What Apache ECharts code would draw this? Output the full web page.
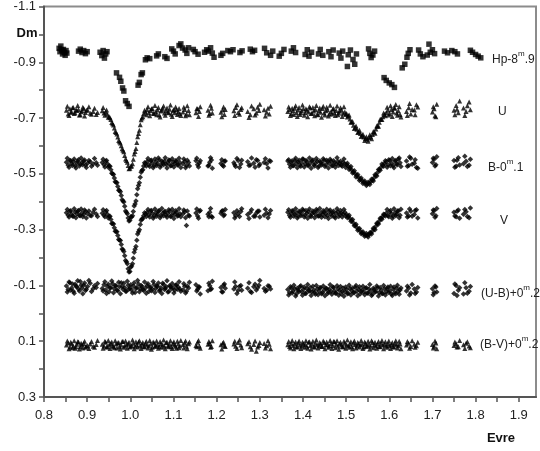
<!DOCTYPE html>
<html>
<head>
<meta charset="utf-8">
<script src="https://cdn.jsdelivr.net/npm/echarts@6/dist/echarts.min.js"></script>
<style>html,body{margin:0;padding:0;background:#fff;}#c{width:540px;height:451px;}</style>
</head>
<body>
<div id="c"></div>
<script>
// ---------- DATA ----------
var xTickLabels = [0.8,0.9,1.0,1.1,1.2,1.3,1.4,1.5,1.6,1.7,1.8,1.9];
var yTickLabels = [-1.1,-0.9,-0.7,-0.5,-0.3,-0.1,0.1,0.3];

// Hipparcos points
var hpT = [0.835,0.837,0.839,0.841,0.843,0.845,0.847,0.849,0.851,0.853,
0.880,0.884,0.888,0.892,0.896,0.900,0.930,0.934,0.937,0.940,0.943,0.946,
0.968,0.975,0.978,0.982,0.985,0.989,0.993,0.997,1.018,1.021,1.025,1.028,
1.035,1.039,1.045,1.061,1.065,1.080,1.085,1.096,1.100,1.104,1.113,1.117,1.121,1.127,1.131,1.135,
1.146,1.150,1.157,1.172,1.177,1.181,1.186,1.190,1.194,1.210,1.214,1.226,1.232,1.238,1.254,1.259,
1.278,1.283,1.288,1.311,1.316,1.325,1.330,1.345,1.350,1.356,1.373,1.378,1.383,1.405,1.410,1.414,1.420,
1.436,1.440,1.446,1.460,1.465,1.470,1.484,1.488,1.492,1.503,1.505,1.510,1.516,1.520,1.524,
1.552,1.555,1.558,1.562,1.566,1.588,1.593,1.600,1.606,1.612,1.630,1.636,1.641,1.644,1.648,
1.668,1.672,1.678,1.688,1.692,1.695,1.700,1.705,1.728,1.735,1.745,1.752,1.758,1.788,1.793,1.800,1.806,1.812];
var hpV = [-0.950,-0.938,-0.958,-0.944,-0.930,-0.946,-0.936,-0.925,-0.942,-0.933,
-0.940,-0.947,-0.935,-0.942,-0.931,-0.938,-0.936,-0.924,-0.942,-0.915,-0.930,-0.938,
-0.862,-0.846,-0.832,-0.808,-0.797,-0.762,-0.752,-0.742,-0.818,-0.828,-0.856,-0.862,
-0.909,-0.916,-0.913,-0.923,-0.930,-0.920,-0.914,-0.948,-0.940,-0.930,-0.960,-0.966,-0.951,-0.944,-0.932,-0.952,
-0.946,-0.938,-0.929,-0.936,-0.945,-0.940,-0.952,-0.933,-0.918,-0.925,-0.932,-0.942,-0.938,-0.945,-0.935,-0.941,
-0.947,-0.938,-0.943,-0.950,-0.934,-0.925,-0.940,-0.922,-0.932,-0.946,-0.940,-0.952,-0.935,-0.928,-0.945,-0.922,-0.936,
-0.930,-0.946,-0.925,-0.938,-0.920,-0.944,-0.933,-0.915,-0.940,-0.885,-0.927,-0.944,-0.910,-0.893,-0.930,
-0.948,-0.932,-0.917,-0.926,-0.940,-0.845,-0.835,-0.826,-0.820,-0.810,-0.880,-0.893,-0.918,-0.932,-0.945,
-0.944,-0.930,-0.920,-0.926,-0.965,-0.936,-0.945,-0.931,-0.940,-0.934,-0.942,-0.938,-0.930,-0.943,-0.936,-0.928,-0.922,-0.916];

// Ground-based UBV observation times (first sweep)
var t = [0.852,0.856,0.860,0.864,0.868,0.872,0.876,0.880,0.884,0.888,0.892,0.896,0.901,0.907,0.914,0.921,
0.935,0.939,0.943,0.947,0.951,0.955,0.959,0.963,0.967,0.971,
0.975,0.979,0.983,0.987,0.991,0.995,0.999,1.003,1.007,1.011,
1.015,1.019,1.023,1.027,1.031,1.035,1.039,1.043,1.047,1.051,
1.055,1.059,1.063,1.067,1.071,1.075,1.079,1.083,1.087,1.091,
1.095,1.099,1.103,1.107,1.111,1.115,
1.122,1.126,1.130,1.135,1.152,1.156,1.160,1.180,1.184,1.188,1.210,1.214,1.218,1.240,1.244,1.250,1.256,1.272,1.278,1.286,1.292,1.298,1.310,1.316,1.322,
1.365,1.369,1.373,1.377,1.381,1.385,1.389,1.393,1.397,1.401,
1.405,1.409,1.413,1.417,1.421,1.425,1.429,1.433,1.437,1.441,
1.445,1.449,1.453,1.457,1.461,1.465,1.469,1.473,1.477,1.481,
1.485,1.489,1.493,1.497,1.501,1.505,1.509,1.513,1.517,1.521,
1.525,1.529,1.533,1.537,1.541,1.545,1.549,1.553,1.557,1.561,
1.565,1.569,1.573,1.577,1.581,1.585,1.589,1.593,1.597,1.601,
1.605,1.609,1.613,1.617,1.621,1.625,
1.640,1.645,1.650,1.658,1.663,
1.700,1.704,1.708,1.750,1.755,1.760,1.772,1.778,1.785];

// second sweep times
var t2 = [0.854,0.858,0.862,0.866,0.870,0.874,0.878,0.882,0.886,0.890,0.894,0.898,0.904,0.910,0.917,0.924,
0.937,0.941,0.945,0.949,0.953,0.957,0.961,0.965,0.969,0.973,
0.977,0.981,0.985,0.989,0.993,0.997,1.001,1.005,1.009,1.013,
1.017,1.021,1.025,1.029,1.033,1.037,1.041,1.045,1.049,1.053,
1.057,1.061,1.065,1.069,1.073,1.077,1.081,1.085,1.089,1.093,
1.097,1.101,1.105,1.109,1.113,1.117,
1.124,1.128,1.132,1.137,1.154,1.158,1.162,1.182,1.186,1.190,1.212,1.216,1.220,1.242,1.247,1.253,1.258,1.275,1.281,1.289,1.295,1.300,1.313,1.319,1.325,
1.367,1.371,1.375,1.379,1.383,1.387,1.391,1.395,1.399,1.403,
1.407,1.411,1.415,1.419,1.423,1.427,1.431,1.435,1.439,1.443,
1.447,1.451,1.455,1.459,1.463,1.467,1.471,1.475,1.479,1.483,
1.487,1.491,1.495,1.499,1.503,1.507,1.511,1.515,1.519,1.523,
1.527,1.531,1.535,1.539,1.543,1.547,1.551,1.555,1.559,1.563,
1.567,1.571,1.575,1.579,1.583,1.587,1.591,1.595,1.599,1.603,
1.607,1.611,1.615,1.619,1.623,1.627,
1.642,1.647,1.653,1.660,1.666,
1.702,1.706,1.710,1.752,1.757,1.763,1.775,1.781,1.788];

var uMag = [-0.728,-0.715,-0.733,-0.722,-0.738,-0.719,-0.727,-0.731,-0.712,-0.726,-0.734,-0.720,-0.729,-0.717,-0.724,-0.713,
-0.726,-0.718,-0.722,-0.714,-0.705,-0.695,-0.680,-0.664,-0.648,-0.632,
-0.615,-0.601,-0.585,-0.566,-0.548,-0.530,-0.520,-0.528,-0.552,-0.580,
-0.612,-0.645,-0.676,-0.700,-0.716,-0.722,-0.730,-0.719,-0.727,-0.734,
-0.716,-0.723,-0.729,-0.711,-0.725,-0.735,-0.718,-0.727,-0.721,-0.732,
-0.714,-0.726,-0.719,-0.730,-0.723,-0.716,
-0.722,-0.731,-0.715,-0.727,-0.719,-0.733,-0.724,-0.728,-0.716,-0.735,-0.721,-0.729,-0.713,-0.726,-0.738,-0.720,-0.731,-0.724,-0.712,-0.733,-0.718,-0.727,-0.730,-0.721,-0.715,
-0.724,-0.731,-0.716,-0.727,-0.735,-0.720,-0.729,-0.713,-0.726,-0.733,
-0.719,-0.728,-0.722,-0.736,-0.717,-0.725,-0.731,-0.714,-0.727,-0.721,
-0.734,-0.718,-0.726,-0.730,-0.715,-0.723,-0.732,-0.719,-0.727,-0.712,
-0.725,-0.729,-0.717,-0.722,-0.716,-0.708,-0.697,-0.686,-0.674,-0.666,
-0.660,-0.651,-0.645,-0.638,-0.632,-0.627,-0.624,-0.630,-0.633,-0.641,
-0.650,-0.661,-0.672,-0.685,-0.696,-0.705,-0.713,-0.720,-0.728,-0.716,
-0.731,-0.722,-0.735,-0.718,-0.726,-0.713,
-0.724,-0.737,-0.715,-0.729,-0.748,
-0.722,-0.733,-0.705,-0.728,-0.745,-0.719,-0.736,-0.724,-0.758];
var uMag2 = [-0.742,-0.709,-0.721,-0.737,-0.716,-0.730,-0.745,-0.711,-0.723,-0.739,-0.707,-0.728,-0.741,-0.714,-0.735,-0.720,
-0.738,-0.710,-0.729,-0.703,-0.701,-0.684,-0.675,-0.652,-0.643,-0.620,
-0.611,-0.590,-0.579,-0.553,-0.542,-0.518,-0.527,-0.536,-0.571,-0.591,
-0.633,-0.656,-0.694,-0.705,-0.728,-0.712,-0.741,-0.708,-0.733,-0.717,
-0.745,-0.712,-0.738,-0.704,-0.729,-0.743,-0.710,-0.736,-0.719,-0.747,
-0.706,-0.731,-0.740,-0.713,-0.734,-0.709,
-0.739,-0.708,-0.744,-0.712,-0.733,-0.706,-0.741,-0.710,-0.746,-0.718,-0.705,-0.740,-0.731,-0.709,-0.748,-0.714,-0.737,-0.702,-0.743,-0.711,-0.739,-0.750,-0.707,-0.735,-0.742,
-0.740,-0.709,-0.735,-0.713,-0.744,-0.706,-0.738,-0.719,-0.747,-0.710,
-0.733,-0.705,-0.741,-0.716,-0.738,-0.708,-0.745,-0.712,-0.736,-0.703,
-0.742,-0.711,-0.739,-0.707,-0.746,-0.715,-0.734,-0.709,-0.743,-0.718,
-0.737,-0.706,-0.741,-0.713,-0.704,-0.711,-0.685,-0.688,-0.663,-0.672,
-0.648,-0.656,-0.634,-0.642,-0.620,-0.633,-0.617,-0.640,-0.626,-0.652,
-0.646,-0.672,-0.671,-0.696,-0.695,-0.718,-0.708,-0.739,-0.711,-0.744,
-0.706,-0.737,-0.749,-0.710,-0.741,-0.704,
-0.709,-0.752,-0.731,-0.712,-0.740,
-0.741,-0.708,-0.750,-0.712,-0.732,-0.761,-0.709,-0.744,-0.730];

var bMag = [-0.542,-0.531,-0.548,-0.536,-0.544,-0.529,-0.539,-0.551,-0.534,-0.541,-0.546,-0.532,-0.538,-0.543,-0.535,-0.540,
-0.541,-0.533,-0.545,-0.536,-0.528,-0.515,-0.500,-0.485,-0.470,-0.455,
-0.440,-0.422,-0.403,-0.384,-0.362,-0.342,-0.334,-0.345,-0.365,-0.392,
-0.425,-0.458,-0.488,-0.512,-0.528,-0.537,-0.544,-0.533,-0.547,-0.538,
-0.529,-0.543,-0.536,-0.550,-0.531,-0.540,-0.545,-0.534,-0.539,-0.548,
-0.530,-0.542,-0.537,-0.546,-0.533,-0.541,
-0.536,-0.544,-0.530,-0.541,-0.547,-0.533,-0.539,-0.528,-0.542,-0.550,-0.537,-0.531,-0.545,-0.540,-0.526,-0.548,-0.535,-0.543,-0.532,-0.538,-0.551,-0.529,-0.541,-0.536,-0.547,
-0.546,-0.534,-0.541,-0.529,-0.548,-0.537,-0.543,-0.531,-0.539,-0.552,
-0.535,-0.544,-0.530,-0.540,-0.547,-0.533,-0.538,-0.545,-0.528,-0.541,
-0.536,-0.549,-0.532,-0.543,-0.538,-0.546,-0.530,-0.540,-0.535,-0.544,
-0.537,-0.531,-0.542,-0.536,-0.533,-0.527,-0.521,-0.514,-0.507,-0.500,
-0.494,-0.487,-0.481,-0.475,-0.470,-0.466,-0.464,-0.467,-0.472,-0.478,
-0.486,-0.495,-0.505,-0.515,-0.524,-0.531,-0.537,-0.543,-0.532,-0.548,
-0.538,-0.529,-0.545,-0.535,-0.552,-0.540,
-0.546,-0.530,-0.556,-0.538,-0.523,
-0.541,-0.552,-0.533,-0.548,-0.527,-0.558,-0.536,-0.545,-0.531];
var bMag2 = [-0.556,-0.524,-0.547,-0.530,-0.553,-0.521,-0.545,-0.528,-0.557,-0.533,-0.550,-0.523,-0.548,-0.527,-0.555,-0.531,
-0.552,-0.525,-0.548,-0.524,-0.527,-0.502,-0.498,-0.472,-0.468,-0.441,
-0.436,-0.407,-0.399,-0.367,-0.357,-0.331,-0.346,-0.350,-0.385,-0.403,
-0.447,-0.468,-0.506,-0.515,-0.540,-0.528,-0.555,-0.526,-0.549,-0.522,
-0.553,-0.530,-0.557,-0.524,-0.546,-0.533,-0.558,-0.521,-0.550,-0.529,
-0.554,-0.525,-0.547,-0.532,-0.556,-0.523,
-0.553,-0.522,-0.549,-0.528,-0.556,-0.525,-0.547,-0.531,-0.558,-0.520,-0.551,-0.527,-0.546,-0.533,-0.555,-0.523,-0.549,-0.530,-0.557,-0.524,-0.548,-0.534,-0.554,-0.521,-0.545,
-0.551,-0.524,-0.547,-0.530,-0.556,-0.522,-0.549,-0.527,-0.553,-0.525,
-0.548,-0.531,-0.557,-0.520,-0.550,-0.528,-0.555,-0.523,-0.546,-0.532,
-0.554,-0.526,-0.549,-0.521,-0.552,-0.529,-0.547,-0.524,-0.558,-0.530,
-0.545,-0.527,-0.553,-0.523,-0.538,-0.516,-0.526,-0.503,-0.511,-0.489,
-0.498,-0.476,-0.485,-0.465,-0.474,-0.458,-0.470,-0.462,-0.481,-0.474,
-0.497,-0.492,-0.516,-0.513,-0.535,-0.527,-0.547,-0.524,-0.551,-0.529,
-0.555,-0.522,-0.548,-0.533,-0.557,-0.526,
-0.527,-0.560,-0.534,-0.551,-0.520,
-0.556,-0.528,-0.561,-0.524,-0.549,-0.532,-0.563,-0.526,-0.552];

var vMag = [-0.361,-0.352,-0.366,-0.355,-0.348,-0.363,-0.357,-0.369,-0.350,-0.360,-0.354,-0.365,-0.358,-0.351,-0.362,-0.356,
-0.359,-0.352,-0.364,-0.355,-0.347,-0.336,-0.322,-0.307,-0.293,-0.279,
-0.263,-0.247,-0.228,-0.206,-0.185,-0.160,-0.150,-0.170,-0.197,-0.230,
-0.262,-0.292,-0.318,-0.338,-0.350,-0.356,-0.362,-0.353,-0.367,-0.357,
-0.348,-0.361,-0.355,-0.368,-0.350,-0.359,-0.364,-0.352,-0.358,-0.366,
-0.349,-0.360,-0.355,-0.363,-0.351,-0.357,
-0.357,-0.364,-0.315,-0.352,-0.360,-0.349,-0.366,-0.355,-0.362,-0.347,-0.359,-0.368,-0.353,-0.361,-0.350,-0.357,-0.365,-0.354,-0.362,-0.348,-0.359,-0.367,-0.352,-0.360,-0.356,
-0.362,-0.351,-0.358,-0.366,-0.354,-0.360,-0.348,-0.363,-0.356,-0.369,
-0.352,-0.359,-0.364,-0.350,-0.357,-0.362,-0.355,-0.367,-0.349,-0.360,
-0.354,-0.363,-0.358,-0.351,-0.365,-0.356,-0.361,-0.347,-0.358,-0.364,
-0.353,-0.360,-0.356,-0.362,-0.354,-0.347,-0.340,-0.332,-0.324,-0.316,
-0.308,-0.301,-0.294,-0.288,-0.284,-0.281,-0.279,-0.283,-0.288,-0.295,
-0.303,-0.312,-0.322,-0.331,-0.340,-0.347,-0.353,-0.359,-0.350,-0.364,
-0.356,-0.348,-0.361,-0.355,-0.367,-0.352,
-0.360,-0.349,-0.366,-0.354,-0.371,
-0.357,-0.368,-0.350,-0.362,-0.346,-0.370,-0.355,-0.364,-0.343];
var vMag2 = [-0.372,-0.345,-0.368,-0.349,-0.375,-0.343,-0.366,-0.351,-0.374,-0.346,-0.370,-0.342,-0.367,-0.350,-0.373,-0.347,
-0.371,-0.346,-0.369,-0.342,-0.348,-0.322,-0.320,-0.294,-0.292,-0.265,
-0.261,-0.231,-0.222,-0.189,-0.178,-0.148,-0.165,-0.178,-0.219,-0.240,
-0.284,-0.300,-0.334,-0.340,-0.361,-0.347,-0.372,-0.345,-0.369,-0.341,
-0.374,-0.348,-0.367,-0.343,-0.376,-0.350,-0.365,-0.344,-0.371,-0.347,
-0.373,-0.340,-0.368,-0.349,-0.375,-0.346,
-0.370,-0.343,-0.367,-0.349,-0.374,-0.341,-0.369,-0.346,-0.376,-0.344,-0.366,-0.350,-0.372,-0.342,-0.368,-0.347,-0.375,-0.340,-0.371,-0.348,-0.366,-0.345,-0.373,-0.343,-0.369,
-0.371,-0.344,-0.368,-0.348,-0.375,-0.342,-0.366,-0.350,-0.373,-0.345,
-0.369,-0.341,-0.374,-0.347,-0.367,-0.343,-0.372,-0.349,-0.376,-0.344,
-0.368,-0.346,-0.373,-0.340,-0.370,-0.348,-0.366,-0.342,-0.375,-0.347,
-0.369,-0.345,-0.372,-0.349,-0.343,-0.352,-0.330,-0.336,-0.314,-0.319,
-0.298,-0.304,-0.285,-0.292,-0.276,-0.286,-0.274,-0.289,-0.284,-0.305,
-0.300,-0.323,-0.320,-0.341,-0.337,-0.355,-0.349,-0.372,-0.346,-0.369,
-0.341,-0.375,-0.350,-0.367,-0.343,-0.373,
-0.345,-0.374,-0.348,-0.369,-0.342,
-0.370,-0.344,-0.376,-0.349,-0.366,-0.341,-0.372,-0.347,-0.378];

var ubMag = [-0.098,-0.085,-0.110,-0.091,-0.079,-0.104,-0.095,-0.087,-0.114,-0.090,-0.101,-0.082,-0.096,-0.108,-0.088,-0.093,
-0.089,-0.102,-0.084,-0.097,-0.077,-0.093,-0.106,-0.088,-0.099,-0.081,
-0.095,-0.110,-0.086,-0.092,-0.079,-0.101,-0.090,-0.084,-0.098,-0.075,
-0.093,-0.105,-0.087,-0.096,-0.082,-0.091,-0.100,-0.078,-0.094,-0.086,
-0.103,-0.089,-0.097,-0.080,-0.092,-0.108,-0.085,-0.095,-0.076,-0.099,
-0.088,-0.091,-0.083,-0.102,-0.094,-0.087,
-0.084,-0.097,-0.079,-0.091,-0.102,-0.086,-0.094,-0.081,-0.099,-0.088,-0.093,-0.076,-0.105,-0.087,-0.096,-0.082,-0.100,-0.090,-0.078,-0.095,-0.084,-0.101,-0.089,-0.083,-0.097,
-0.085,-0.074,-0.091,-0.079,-0.088,-0.070,-0.083,-0.095,-0.077,-0.086,
-0.072,-0.089,-0.081,-0.093,-0.076,-0.084,-0.068,-0.087,-0.079,-0.092,
-0.074,-0.083,-0.090,-0.071,-0.086,-0.078,-0.094,-0.080,-0.073,-0.088,
-0.082,-0.069,-0.091,-0.077,-0.085,-0.072,-0.089,-0.081,-0.075,-0.093,
-0.079,-0.086,-0.070,-0.084,-0.076,-0.090,-0.073,-0.087,-0.080,-0.068,
-0.085,-0.078,-0.092,-0.074,-0.083,-0.071,-0.088,-0.077,-0.094,-0.081,
-0.069,-0.086,-0.075,-0.090,-0.079,-0.084,
-0.080,-0.091,-0.073,-0.087,-0.076,
-0.088,-0.075,-0.094,-0.071,-0.100,-0.083,-0.069,-0.092,-0.079];
var ubMag2 = [-0.076,-0.112,-0.083,-0.105,-0.072,-0.097,-0.117,-0.080,-0.101,-0.070,-0.109,-0.086,-0.118,-0.078,-0.099,-0.107,
-0.080,-0.113,-0.071,-0.104,-0.091,-0.116,-0.074,-0.099,-0.083,-0.111,
-0.070,-0.096,-0.108,-0.079,-0.115,-0.087,-0.102,-0.073,-0.110,-0.089,
-0.118,-0.077,-0.100,-0.085,-0.112,-0.072,-0.106,-0.093,-0.081,-0.114,
-0.075,-0.098,-0.109,-0.084,-0.071,-0.103,-0.090,-0.117,-0.078,-0.096,
-0.107,-0.073,-0.101,-0.086,-0.113,-0.079,
-0.106,-0.073,-0.098,-0.111,-0.080,-0.094,-0.069,-0.108,-0.085,-0.115,-0.077,-0.101,-0.090,-0.112,-0.071,-0.096,-0.083,-0.110,-0.075,-0.104,-0.092,-0.118,-0.079,-0.099,-0.087,
-0.066,-0.095,-0.073,-0.101,-0.062,-0.090,-0.078,-0.099,-0.065,-0.094,
-0.071,-0.103,-0.080,-0.064,-0.097,-0.075,-0.100,-0.067,-0.092,-0.070,
-0.098,-0.063,-0.089,-0.076,-0.102,-0.068,-0.093,-0.072,-0.099,-0.065,
-0.096,-0.079,-0.061,-0.094,-0.070,-0.101,-0.066,-0.091,-0.074,-0.100,
-0.063,-0.095,-0.078,-0.097,-0.067,-0.092,-0.072,-0.103,-0.064,-0.090,
-0.076,-0.098,-0.062,-0.093,-0.071,-0.100,-0.066,-0.089,-0.075,-0.097,
-0.064,-0.094,-0.070,-0.101,-0.068,-0.091,
-0.097,-0.066,-0.103,-0.071,-0.093,
-0.067,-0.098,-0.076,-0.105,-0.064,-0.092,-0.110,-0.072,-0.096];

var bvMag = [0.114,0.106,0.121,0.109,0.117,0.125,0.111,0.103,0.119,0.113,0.108,0.122,0.115,0.110,0.118,0.112,
0.111,0.117,0.104,0.120,0.113,0.108,0.116,0.123,0.110,0.106,
0.119,0.114,0.101,0.117,0.112,0.109,0.121,0.115,0.107,0.118,
0.113,0.104,0.116,0.111,0.120,0.108,0.114,0.117,0.110,0.122,
0.106,0.115,0.112,0.119,0.109,0.113,0.118,0.105,0.116,0.111,
0.120,0.108,0.114,0.125,0.110,0.117,
0.112,0.106,0.118,0.109,0.115,0.104,0.117,0.111,0.108,0.119,0.113,0.107,0.116,0.110,0.118,0.105,0.114,0.109,0.120,0.112,0.136,0.115,0.108,0.116,0.111,
0.113,0.119,0.108,0.115,0.110,0.121,0.106,0.114,0.117,0.109,
0.112,0.118,0.104,0.115,0.111,0.120,0.107,0.113,0.116,0.110,
0.119,0.105,0.114,0.112,0.117,0.108,0.115,0.102,0.111,0.118,
0.109,0.114,0.120,0.107,0.113,0.116,0.110,0.119,0.106,0.112,
0.117,0.109,0.114,0.111,0.121,0.108,0.115,0.112,0.118,0.105,
0.113,0.116,0.110,0.119,0.107,0.114,0.111,0.117,0.109,0.115,
0.112,0.120,0.108,0.113,0.116,0.110,
0.114,0.107,0.119,0.111,0.116,
0.112,0.118,0.106,0.115,0.109,0.120,0.113,0.107,0.117];
var bvMag2 = [0.099,0.127,0.104,0.123,0.098,0.120,0.102,0.128,0.107,0.124,0.100,0.118,0.126,0.101,0.122,0.097,
0.125,0.100,0.121,0.097,0.126,0.103,0.119,0.098,0.124,0.105,
0.128,0.101,0.122,0.099,0.125,0.104,0.118,0.096,0.127,0.102,
0.121,0.098,0.126,0.105,0.120,0.100,0.124,0.097,0.129,0.103,
0.119,0.099,0.125,0.101,0.122,0.096,0.127,0.104,0.120,0.098,
0.126,0.102,0.118,0.100,0.123,0.097,
0.124,0.099,0.127,0.103,0.120,0.097,0.125,0.101,0.122,0.098,0.128,0.104,0.119,0.100,0.126,0.096,0.123,0.102,0.129,0.099,0.121,0.105,0.124,0.098,0.127,
0.101,0.124,0.097,0.127,0.103,0.120,0.099,0.126,0.104,0.122,
0.098,0.125,0.102,0.128,0.100,0.121,0.096,0.124,0.105,0.119,
0.099,0.127,0.103,0.122,0.097,0.126,0.101,0.123,0.098,0.129,
0.104,0.120,0.100,0.125,0.096,0.122,0.102,0.127,0.099,0.124,
0.105,0.121,0.097,0.126,0.103,0.119,0.100,0.128,0.098,0.123,
0.104,0.125,0.101,0.120,0.097,0.127,0.102,0.122,0.099,0.126,
0.105,0.121,0.098,0.124,0.100,0.127,
0.101,0.125,0.098,0.122,0.104,
0.124,0.099,0.127,0.103,0.121,0.097,0.126,0.102,0.123];

// ---------- CHART ----------
function pairs(xs, ys) {
  var out = [];
  for (var i = 0; i < xs.length && i < ys.length; i++) out.push([xs[i], ys[i]]);
  return out;
}
var NARROW = "'Liberation Sans Narrow', 'Liberation Sans', Arial, sans-serif";
var SANS = "'Liberation Sans', Arial, sans-serif";
var xTicks = [];
for (var i = 0; i < xTickLabels.length; i++) {
  xTicks.push(xTickLabels[i]);
  if (i < xTickLabels.length - 1) xTicks.push(+(xTickLabels[i] + 0.05).toFixed(2));
}
var yTicks = [];
for (var j = 0; j < yTickLabels.length; j++) {
  yTicks.push(yTickLabels[j]);
  if (j < yTickLabels.length - 1) yTicks.push(+(yTickLabels[j] + 0.1).toFixed(1));
}

function sc(name, data, symbol, size) {
  return {
    name: name, type: 'scatter', data: data, symbol: symbol, symbolSize: size,
    itemStyle: { color: '#000' }, silent: true, large: false
  };
}

function lbl(x, y, text) {
  return {
    type: 'text', x: x, y: y, silent: true,
    style: {
      text: text, fill: '#222', verticalAlign: 'middle', align: 'left',
      rich: {
        a: { fontSize: 12, lineHeight: 16, fontFamily: NARROW, fill: '#222', verticalAlign: 'bottom' },
        s: { fontSize: 8, lineHeight: 6, fontFamily: NARROW, fill: '#222', verticalAlign: 'top' }
      }
    }
  };
}

var chart = echarts.init(document.getElementById('c'), null, { renderer: 'canvas' });
chart.setOption({
  animation: false,
  backgroundColor: '#fff',
  grid: { left: 44, right: 4, top: 5, bottom: 54, show: true, borderColor: '#8c8c8c', borderWidth: 2, backgroundColor: 'transparent' },
  xAxis: {
    type: 'value', min: 0.8, max: 1.94,
    axisLine: { show: true, onZero: false, lineStyle: { color: '#555', width: 2 } },
    axisTick: { show: true, inside: false, length: 5, customValues: xTicks, lineStyle: { color: '#555', width: 1.5 } },
    axisLabel: { customValues: xTickLabels, margin: 12, color: '#222', fontSize: 13, fontFamily: NARROW,
      formatter: function (v) { return (+v).toFixed(1); } },
    splitLine: { show: false }
  },
  yAxis: {
    type: 'value', min: -1.1, max: 0.3, inverse: true,
    axisLine: { show: true, onZero: false, lineStyle: { color: '#555', width: 2 } },
    axisTick: { show: true, inside: false, length: 5, customValues: yTicks, lineStyle: { color: '#555', width: 1.5 } },
    axisLabel: { customValues: yTickLabels, margin: 8, color: '#222', fontSize: 13, fontFamily: NARROW,
      formatter: function (v) { return (+v).toFixed(1); } },
    splitLine: { show: false }
  },
  series: [
    sc('Hp', pairs(hpT, hpV), 'rect', 5.5),
    sc('U', pairs(t, uMag).concat(pairs(t2, uMag2)), 'triangle', 5),
    sc('B', pairs(t, bMag).concat(pairs(t2, bMag2)), 'diamond', 5.5),
    sc('V', pairs(t, vMag).concat(pairs(t2, vMag2)), 'diamond', 5.5),
    sc('U-B', pairs(t, ubMag).concat(pairs(t2, ubMag2)), 'diamond', 5.5),
    sc('B-V', pairs(t, bvMag).concat(pairs(t2, bvMag2)), 'triangle', 5)
  ],
  graphic: [
    { type: 'text', x: 27, y: 33, silent: true, style: { text: 'Dm', font: 'bold 13px ' + SANS, fill: '#111', align: 'center', verticalAlign: 'middle' } },
    { type: 'text', x: 501, y: 438, silent: true, style: { text: 'Evre', font: 'bold 13px ' + SANS, fill: '#111', align: 'center', verticalAlign: 'middle' } },
    lbl(492, 58, '{a|Hp-8}{s|m}{a|.9}'),
    lbl(498, 110, '{a|U}'),
    lbl(488, 166, '{a|B-0}{s|m}{a|.1}'),
    lbl(500, 219, '{a|V}'),
    lbl(481, 292, '{a|(U-B)+0}{s|m}{a|.2}'),
    lbl(480, 343, '{a|(B-V)+0}{s|m}{a|.2}')
  ]
});
</script>
</body>
</html>
